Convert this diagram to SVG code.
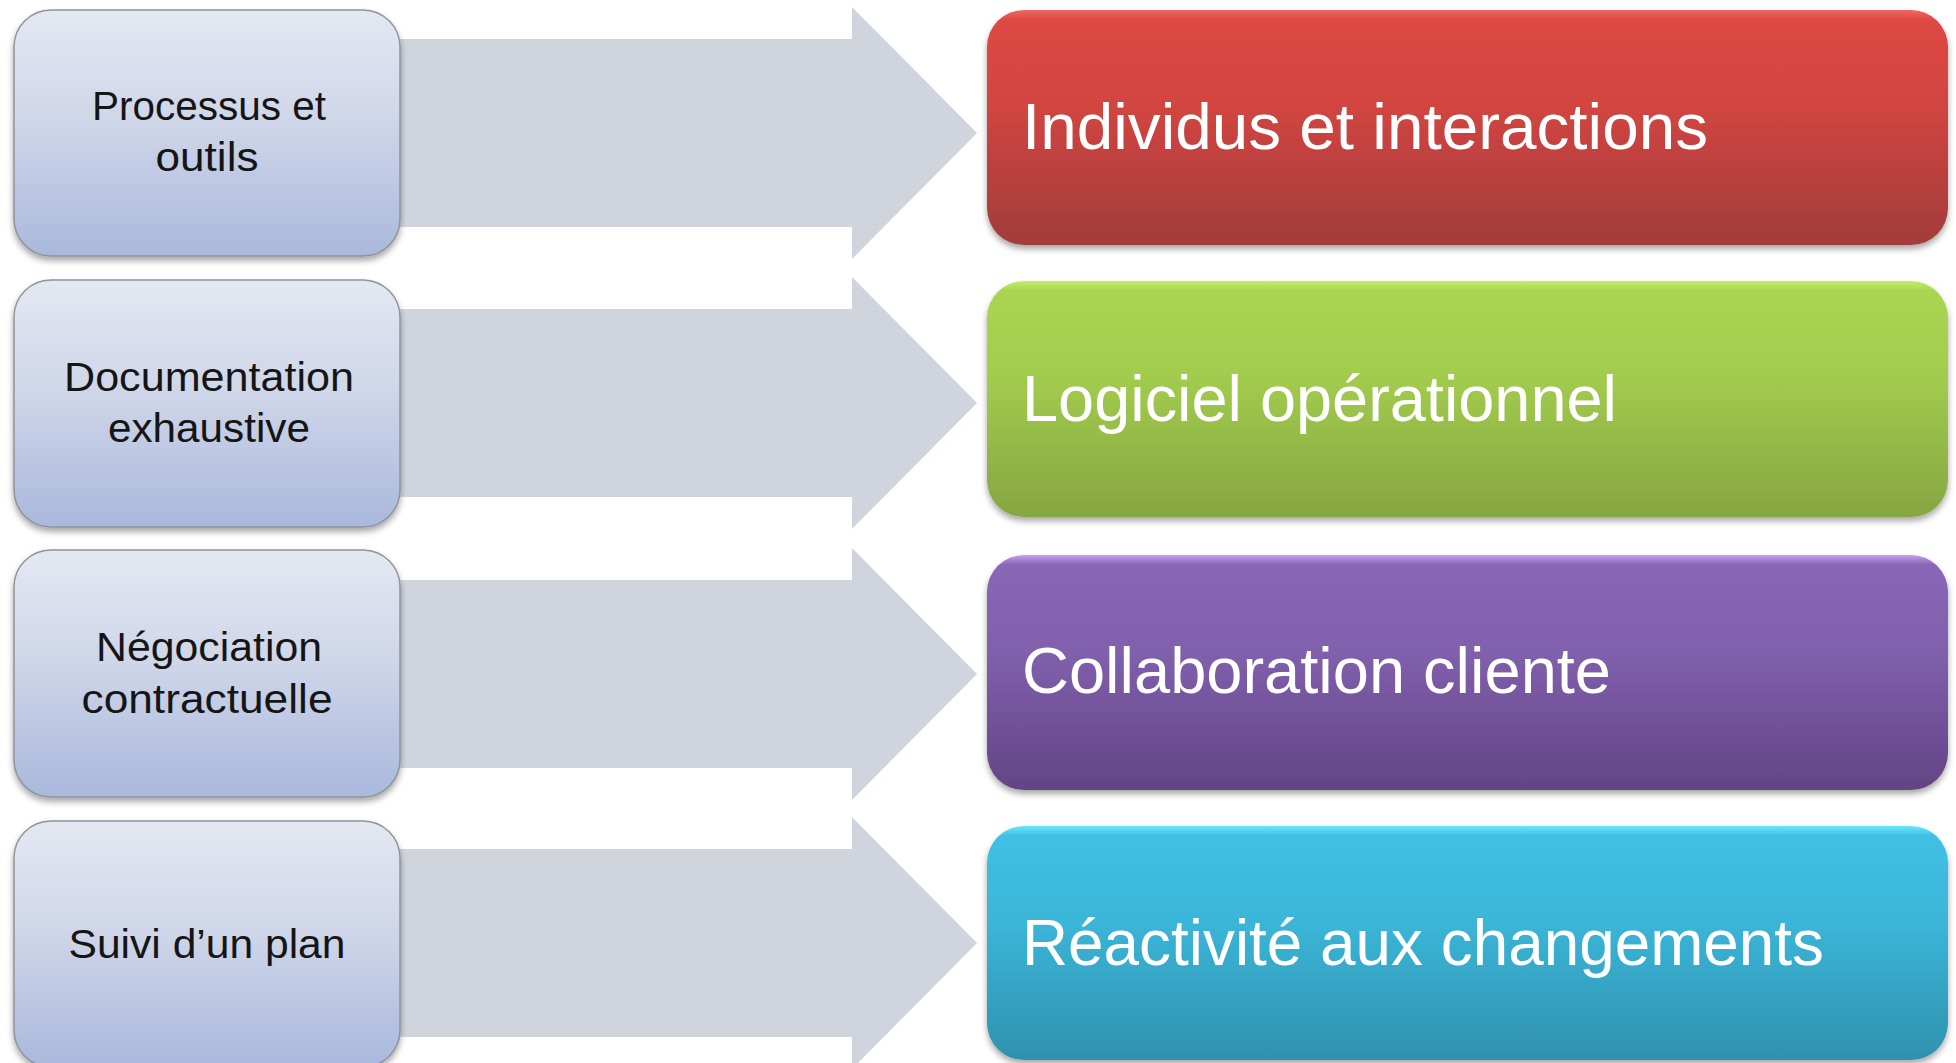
<svg xmlns="http://www.w3.org/2000/svg" width="1956" height="1063" viewBox="0 0 1956 1063">
<defs>
<linearGradient id="gLeft" x1="0" y1="0" x2="0" y2="1">
<stop offset="0" stop-color="#e4e8f2"/><stop offset="0.45" stop-color="#cfd6e9"/><stop offset="1" stop-color="#a9b8dc"/>
</linearGradient>
<linearGradient id="gRed" x1="0" y1="0" x2="0" y2="1">
<stop offset="0" stop-color="#ee6a62"/><stop offset="0.04" stop-color="#de4842"/><stop offset="0.4" stop-color="#d24541"/><stop offset="1" stop-color="#a23c3a"/>
</linearGradient>
<linearGradient id="gGreen" x1="0" y1="0" x2="0" y2="1">
<stop offset="0" stop-color="#c4ec6c"/><stop offset="0.04" stop-color="#aad552"/><stop offset="0.4" stop-color="#a2cc4e"/><stop offset="1" stop-color="#86a641"/>
</linearGradient>
<linearGradient id="gPurple" x1="0" y1="0" x2="0" y2="1">
<stop offset="0" stop-color="#c7a0f0"/><stop offset="0.04" stop-color="#8a66b6"/><stop offset="0.4" stop-color="#8160ad"/><stop offset="1" stop-color="#634485"/>
</linearGradient>
<linearGradient id="gCyan" x1="0" y1="0" x2="0" y2="1">
<stop offset="0" stop-color="#6ce6fb"/><stop offset="0.04" stop-color="#40c0e3"/><stop offset="0.4" stop-color="#3bb6d9"/><stop offset="1" stop-color="#2f91ad"/>
</linearGradient>
<filter id="shadow" x="-5%" y="-5%" width="110%" height="120%">
<feDropShadow dx="0" dy="4" stdDeviation="3" flood-color="#000" flood-opacity="0.35"/>
</filter>
</defs>
<style>
.arrow{fill:#d0d4dc}
.lbox{fill:url(#gLeft);stroke:#8f939a;stroke-width:1.5;filter:url(#shadow)}
.rbox{filter:url(#shadow)}
.ltxt{font-family:"Liberation Sans",Arial,sans-serif;font-size:41px;fill:#151515;text-anchor:middle}
.rtxt{font-family:"Liberation Sans",Arial,sans-serif;font-size:64px;fill:#ffffff}
</style>
<rect width="1956" height="1063" fill="#ffffff"/>
<g id="connectors">
<polygon class="arrow" points="390,39 852,39 852,7 977,133 852,259 852,227 390,227"/>
<polygon class="arrow" points="390,309 852,309 852,277 977,403 852,529 852,497 390,497"/>
<polygon class="arrow" points="390,580 852,580 852,548 977,674 852,800 852,768 390,768"/>
<polygon class="arrow" points="390,849 852,849 852,817 977,943 852,1069 852,1037 390,1037"/>
</g>
<g id="node-processus">
<rect class="lbox" x="14" y="10" width="386" height="246" rx="37"/>
<text class="ltxt" x="209" y="120" textLength="234" lengthAdjust="spacingAndGlyphs">Processus et</text>
<text class="ltxt" x="207" y="171" textLength="103" lengthAdjust="spacingAndGlyphs">outils</text>
</g>
<g id="node-documentation">
<rect class="lbox" x="14" y="280" width="386" height="247" rx="37"/>
<text class="ltxt" x="209" y="391" textLength="290" lengthAdjust="spacingAndGlyphs">Documentation</text>
<text class="ltxt" x="209" y="442" textLength="202" lengthAdjust="spacingAndGlyphs">exhaustive</text>
</g>
<g id="node-negociation">
<rect class="lbox" x="14" y="550" width="386" height="247" rx="37"/>
<text class="ltxt" x="209" y="661" textLength="226" lengthAdjust="spacingAndGlyphs">Négociation</text>
<text class="ltxt" x="207" y="713" textLength="251" lengthAdjust="spacingAndGlyphs">contractuelle</text>
</g>
<g id="node-suivi">
<rect class="lbox" x="14" y="821" width="386" height="246" rx="37"/>
<text class="ltxt" x="207" y="958" textLength="277" lengthAdjust="spacingAndGlyphs">Suivi d’un plan</text>
</g>
<g id="node-individus">
<rect class="rbox" x="987" y="10" width="961" height="235" rx="37" fill="url(#gRed)"/>
<text class="rtxt" x="1022" y="149" textLength="686" lengthAdjust="spacingAndGlyphs">Individus et interactions</text>
</g>
<g id="node-logiciel">
<rect class="rbox" x="987" y="281" width="961" height="236" rx="37" fill="url(#gGreen)"/>
<text class="rtxt" x="1022" y="421" textLength="595" lengthAdjust="spacingAndGlyphs">Logiciel opérationnel</text>
</g>
<g id="node-collaboration">
<rect class="rbox" x="987" y="555" width="961" height="235" rx="37" fill="url(#gPurple)"/>
<text class="rtxt" x="1022" y="693" textLength="589" lengthAdjust="spacingAndGlyphs">Collaboration cliente</text>
</g>
<g id="node-reactivite">
<rect class="rbox" x="987" y="826" width="961" height="234" rx="37" fill="url(#gCyan)"/>
<text class="rtxt" x="1022" y="965" textLength="802" lengthAdjust="spacingAndGlyphs">Réactivité aux changements</text>
</g>
</svg>
